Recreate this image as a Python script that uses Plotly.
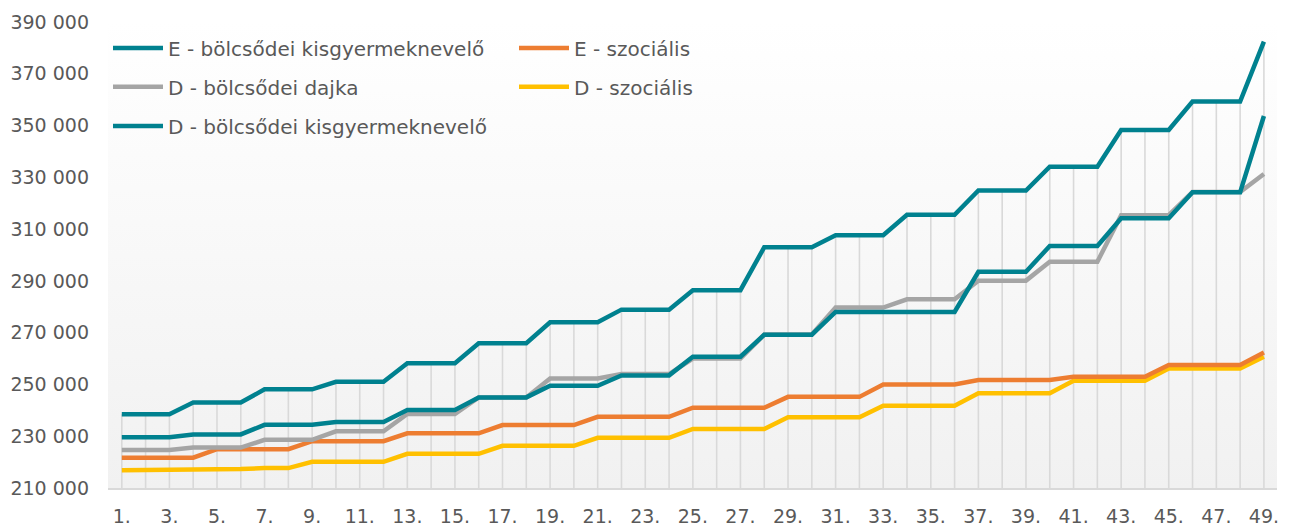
import plotly.graph_objects as go

# category labels 1. .. 49.
categories = list(range(1, 50))
cat_labels = [str(c) + '.' for c in categories]

# series values (HUF)
e_bolcs_kisgy = [238500] * 3 + [243000] * 3 + [248100] * 3 + [251000] * 3 + [258200] * 3 + \
    [265900] * 3 + [274000] * 3 + [278900] * 3 + [286400] * 3 + [303000] * 3 + [307600] * 3 + \
    [315500] * 3 + [324900] * 3 + [334100] * 3 + [348300] * 3 + [359300] * 3 + [382400]
e_szocialis = [221700] * 4 + [225000] * 4 + [228100] * 4 + [231100] * 4 + [234300] * 4 + \
    [237500] * 4 + [241000] * 4 + [245200] * 4 + [250000] * 4 + [251700] * 4 + [253000] * 4 + \
    [257500] * 4 + [262300]
d_dajka = [224700] * 3 + [225600] * 3 + [228600] * 3 + [231900] * 3 + [238600] * 3 + \
    [245000] * 3 + [252300] * 3 + [254000] * 3 + [260000] * 3 + [269300] * 3 + [279700] * 3 + \
    [282900] * 3 + [290100] * 3 + [297400] * 3 + [315400] * 3 + [324300] * 3 + [331300]
d_szocialis = [216900] * 3 + [217300] * 3 + [217700] * 2 + [220100] * 4 + [223200] * 4 + \
    [226300] * 4 + [229400] * 4 + [232800] * 4 + [237300] * 4 + [241800] * 4 + [246600] * 4 + \
    [251400] * 4 + [256200] * 4 + [260700]
d_bolcs_kisgy = [229600] * 3 + [230700] * 3 + [234400] * 3 + [235500] * 3 + [240100] * 3 + \
    [245000] * 3 + [249500] * 3 + [253500] * 3 + [260700] * 3 + [269200] * 3 + [278000] * 6 + \
    [293500] * 3 + [303500] * 3 + [314200] * 3 + [324200] * 3 + [353700]

y_ticks = list(range(210000, 390001, 20000))
x_ticks = categories[::2]

TEAL = '#00818F'
ORANGE = '#ED7D31'
GRAY = '#A5A5A5'
YELLOW = '#FFC000'
TEXT = '#595959'
FONT = 'Century Gothic, DejaVu Sans, sans-serif'

x_range = [0.42, 49.55]
y_range = [210000, 390000]

fig = go.Figure()

# background gradient of the plot area
fig.add_trace(go.Scatter(
    x=[x_range[0], x_range[1], x_range[1], x_range[0], x_range[0]],
    y=[y_range[0], y_range[0], y_range[1], y_range[1], y_range[0]],
    mode='lines', line=dict(width=0), fill='toself',
    fillgradient=dict(type='vertical', colorscale=[[0, '#f1f1f1'], [1, '#ffffff']]),
    hoverinfo='skip', showlegend=False))

# drop lines from the highest series down to the axis
fig.add_trace(go.Scatter(
    x=categories, y=e_bolcs_kisgy, mode='markers',
    marker=dict(size=1, opacity=0),
    error_y=dict(type='data', symmetric=False, array=[0] * len(categories),
                 arrayminus=[v - y_range[0] for v in e_bolcs_kisgy],
                 color='#d9d9d9', thickness=1.6, width=0),
    hoverinfo='skip', showlegend=False))

# drawn bottom to top, legend order set by legend / legendrank
series = [
    ('D - szociális', d_szocialis, YELLOW, 'legend2', 2),
    ('E - szociális', e_szocialis, ORANGE, 'legend', 2),
    ('D - bölcsődei dajka', d_dajka, GRAY, 'legend2', 1),
    ('D - bölcsődei kisgyermeknevelő', d_bolcs_kisgy, TEAL, 'legend3', 1),
    ('E - bölcsődei kisgyermeknevelő', e_bolcs_kisgy, TEAL, 'legend', 1),
]
for name, vals, color, leg, rank in series:
    fig.add_trace(go.Scatter(
        x=categories, y=vals, name=name, mode='lines',
        line=dict(color=color, width=4.5),
        legend=leg, legendrank=rank))

legend_style = dict(orientation='h', x=0, xanchor='left', yanchor='middle',
                    bgcolor='rgba(0,0,0,0)', font=dict(family=FONT, size=20, color=TEXT),
                    entrywidth=341, itemwidth=50, traceorder='normal')

fig.update_layout(
    width=1290, height=526,
    margin=dict(l=108, r=13, t=22, b=38),
    paper_bgcolor='white', plot_bgcolor='white',
    separators=', ',
    font=dict(family=FONT, color=TEXT, size=19),
    legend=dict(legend_style, y=0.944),
    legend2=dict(legend_style, y=0.861),
    legend3=dict(legend_style, y=0.777),
    xaxis=dict(range=x_range, tickmode='array', tickvals=x_ticks,
               ticktext=[cat_labels[c - 1] for c in x_ticks],
               showgrid=False, zeroline=False, showline=True, automargin=False,
               linecolor='#d9d9d9', linewidth=2, ticks='',
               ticklabelstandoff=10, tickfont=dict(size=19, color=TEXT)),
    yaxis=dict(range=y_range, tickmode='array', tickvals=y_ticks, tickformat=',d',
               showgrid=False, zeroline=False, showline=False, ticks='', automargin=False,
               ticklabelstandoff=18, tickfont=dict(size=19, color=TEXT)),
)

# page body has a default 8px margin; drop it so the chart fills the window
fig.write_html('out.html', config={'displayModeBar': False},
               post_script="document.body.style.margin='0';")
